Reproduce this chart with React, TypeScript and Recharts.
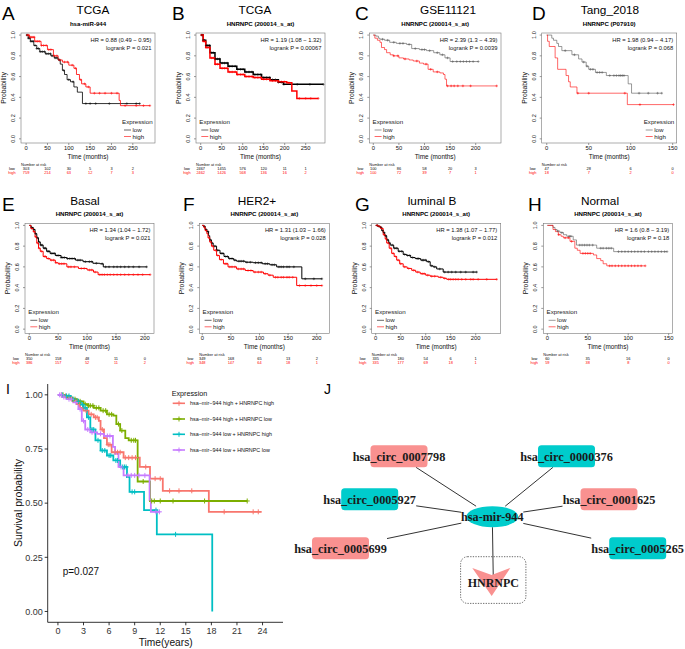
import { LineChart, Line, XAxis, YAxis, ScatterChart, Scatter } from "recharts";

const SANS = "'Liberation Sans', Arial, Helvetica, sans-serif";
const SERIF = "'Liberation Serif', 'Times New Roman', serif";

type Step = [number, number];

// ---- KM curves, months vs probability
const A_LOW: Step[] = [[0, 1], [5, 0.97], [10, 0.94], [18, 0.9], [25, 0.87], [32, 0.84], [45, 0.82], [58, 0.8], [66, 0.78], [75, 0.76], [80, 0.72], [85, 0.66], [90, 0.62], [96, 0.57], [104, 0.55], [112, 0.5], [120, 0.45], [132, 0.34], [266, 0.34]];
const A_LOW_CENS = [2, 5, 8, 11, 14, 17, 21, 25, 29, 33, 38, 43, 47, 52, 57, 61, 68, 72, 78, 88, 100, 110, 140, 150, 163, 195, 236, 258, 266];
const A_HIGH: Step[] = [[0, 1], [8, 0.98], [20, 0.94], [35, 0.9], [50, 0.86], [64, 0.8], [75, 0.76], [85, 0.74], [100, 0.71], [112, 0.68], [118, 0.62], [125, 0.57], [130, 0.53], [140, 0.5], [150, 0.44], [218, 0.37], [221, 0.32], [290, 0.32]];
const A_HIGH_CENS = [3, 6, 9, 12, 16, 19, 23, 27, 31, 36, 41, 47, 53, 58, 66, 72, 79, 90, 97, 108, 116, 128, 137, 146, 160, 172, 185, 200, 213, 232, 258, 275, 290];

const B_LOW: Step[] = [[0, 1], [6, 0.95], [12, 0.9], [22, 0.83], [34, 0.77], [46, 0.73], [65, 0.7], [86, 0.67], [105, 0.645], [125, 0.62], [145, 0.59], [165, 0.57], [185, 0.545], [197, 0.525], [292, 0.525]];
const B_LOW_CENS = [3, 6, 9, 13, 17, 21, 26, 30, 35, 40, 45, 51, 57, 63, 69, 75, 82, 88, 95, 101, 108, 115, 122, 129, 136, 143, 150, 157, 164, 171, 178, 185, 192, 198, 230, 260, 292];
const B_HIGH: Step[] = [[0, 1], [6, 0.94], [12, 0.88], [22, 0.78], [34, 0.72], [46, 0.68], [65, 0.645], [86, 0.62], [105, 0.6], [125, 0.59], [145, 0.575], [165, 0.56], [185, 0.55], [205, 0.54], [217, 0.46], [229, 0.39], [280, 0.39]];
const B_HIGH_CENS = [3, 6, 9, 13, 17, 21, 26, 30, 35, 40, 45, 51, 57, 63, 69, 75, 82, 88, 95, 101, 108, 115, 122, 129, 136, 143, 150, 157, 164, 171, 178, 185, 192, 199, 210, 235, 250, 262, 280];

const C_LOW: Step[] = [[0, 1], [5, 0.99], [10, 0.97], [13, 0.96], [22, 0.95], [32, 0.93], [45, 0.92], [65, 0.91], [75, 0.87], [90, 0.86], [104, 0.85], [118, 0.83], [130, 0.81], [140, 0.78], [150, 0.745], [205, 0.745]];
const C_LOW_CENS = [18, 28, 40, 52, 58, 70, 82, 95, 100, 110, 125, 135, 145, 155, 163, 170, 176, 182, 188, 195, 205];
const C_HIGH: Step[] = [[0, 1], [3, 0.97], [8, 0.95], [13, 0.93], [16, 0.88], [22, 0.86], [26, 0.83], [33, 0.81], [39, 0.8], [50, 0.78], [59, 0.77], [70, 0.76], [78, 0.75], [90, 0.73], [98, 0.72], [107, 0.67], [117, 0.645], [130, 0.635], [137, 0.62], [140, 0.575], [143, 0.51], [241, 0.51]];
const C_HIGH_CENS = [40, 48, 62, 85, 103, 112, 125, 145, 152, 158, 165, 175, 190, 241];

const D_LOW: Step[] = [[0, 1], [6, 0.97], [8, 0.95], [12, 0.92], [14, 0.89], [18, 0.85], [30, 0.81], [38, 0.77], [42, 0.74], [47, 0.7], [50, 0.67], [58, 0.64], [71, 0.61], [97, 0.53], [101, 0.44], [137, 0.44]];
const D_LOW_CENS = [22, 33, 44, 48, 52, 55, 60, 63, 66, 75, 80, 83, 86, 88, 90, 92, 110, 121, 132, 137];
const D_HIGH: Step[] = [[0, 1], [1, 0.94], [3, 0.89], [10, 0.78], [13, 0.67], [23, 0.61], [26, 0.55], [28, 0.5], [36, 0.44], [96, 0.33], [151, 0.33]];
const D_HIGH_CENS = [37, 50, 93, 111, 151];

const E_LOW: Step[] = [[0, 1], [3, 0.98], [7, 0.96], [10, 0.92], [13, 0.88], [16, 0.84], [19, 0.81], [24, 0.78], [30, 0.75], [36, 0.73], [45, 0.71], [55, 0.69], [65, 0.68], [80, 0.665], [93, 0.65], [110, 0.635], [122, 0.63], [128, 0.6], [203, 0.6]];
const E_LOW_CENS = [4, 8, 11, 14, 17, 20, 22, 26, 28, 32, 34, 38, 41, 44, 48, 51, 55, 58, 61, 66, 70, 74, 78, 84, 88, 97, 104, 108, 116, 126, 132, 138, 146, 152, 158, 165, 172, 180, 190, 203];
const E_HIGH: Step[] = [[0, 1], [3, 0.97], [7, 0.94], [10, 0.89], [13, 0.83], [16, 0.78], [19, 0.75], [24, 0.7], [30, 0.68], [36, 0.665], [45, 0.64], [50, 0.63], [65, 0.6], [85, 0.585], [100, 0.57], [111, 0.55], [119, 0.525], [209, 0.525]];
const E_HIGH_CENS = [4, 8, 11, 14, 17, 21, 26, 28, 33, 38, 42, 46, 52, 56, 60, 68, 72, 78, 90, 95, 104, 108, 114, 122, 126, 130, 135, 140, 146, 152, 158, 165, 172, 180, 188, 196, 209];

const F_LOW: Step[] = [[0, 1], [2, 0.99], [5, 0.96], [8, 0.94], [11, 0.9], [13, 0.86], [16, 0.83], [19, 0.8], [25, 0.76], [31, 0.73], [38, 0.7], [46, 0.68], [55, 0.665], [60, 0.655], [75, 0.645], [89, 0.64], [105, 0.63], [118, 0.62], [130, 0.6], [174, 0.485], [209, 0.485]];
const F_LOW_CENS = [4, 7, 10, 14, 17, 22, 27, 33, 36, 41, 44, 48, 52, 57, 64, 68, 72, 78, 84, 93, 98, 103, 110, 114, 122, 126, 134, 138, 142, 148, 152, 160, 180, 195, 209];
const F_HIGH: Step[] = [[0, 1], [3, 0.98], [5, 0.95], [8, 0.92], [10, 0.88], [13, 0.84], [16, 0.8], [20, 0.76], [25, 0.71], [30, 0.67], [37, 0.63], [45, 0.6], [60, 0.58], [75, 0.565], [89, 0.55], [107, 0.534], [115, 0.52], [124, 0.5], [165, 0.42], [209, 0.42]];
const F_HIGH_CENS = [4, 7, 12, 15, 18, 23, 27, 33, 40, 43, 48, 52, 57, 63, 68, 72, 80, 85, 92, 98, 103, 110, 118, 128, 132, 138, 142, 148, 152, 158, 170, 180, 190, 200, 209];

const G_LOW: Step[] = [[0, 1], [4, 0.99], [9, 0.98], [12, 0.95], [15, 0.93], [18, 0.9], [22, 0.86], [26, 0.83], [29, 0.81], [36, 0.78], [45, 0.75], [55, 0.72], [62, 0.71], [70, 0.69], [79, 0.68], [90, 0.665], [102, 0.65], [109, 0.61], [115, 0.6], [122, 0.58], [135, 0.55], [202, 0.55]];
const G_LOW_CENS = [3, 7, 11, 14, 17, 20, 24, 28, 33, 38, 42, 47, 52, 58, 64, 68, 74, 83, 86, 93, 96, 100, 106, 112, 118, 128, 138, 145, 152, 160, 170, 180, 195, 202];
const G_HIGH: Step[] = [[0, 1], [5, 0.99], [10, 0.97], [15, 0.91], [19, 0.87], [22, 0.83], [27, 0.78], [32, 0.73], [37, 0.7], [42, 0.665], [48, 0.63], [55, 0.6], [63, 0.585], [72, 0.567], [80, 0.55], [89, 0.534], [100, 0.52], [109, 0.51], [125, 0.5], [135, 0.49], [142, 0.48], [242, 0.48]];
const G_HIGH_CENS = [3, 7, 12, 17, 21, 25, 30, 35, 40, 45, 50, 58, 66, 76, 84, 93, 97, 104, 112, 118, 130, 138, 146, 150, 155, 160, 165, 172, 180, 190, 195, 205, 222, 242];

const H_LOW: Step[] = [[0, 1], [7, 0.98], [9.5, 0.96], [12, 0.945], [15.7, 0.93], [20, 0.91], [24, 0.895], [32, 0.86], [36, 0.81], [61, 0.78], [82, 0.747], [148, 0.747]];
const H_LOW_CENS = [13, 18, 27, 29, 40, 43, 46, 49, 52, 56, 66, 69, 73, 76, 79, 88, 92, 96, 100, 104, 108, 112, 116, 120, 125, 129, 133, 137, 141, 145, 148];
const H_HIGH: Step[] = [[0, 1], [7, 0.96], [10, 0.94], [13.6, 0.91], [17, 0.895], [19.8, 0.88], [28, 0.846], [34, 0.78], [37, 0.76], [40.5, 0.73], [57, 0.715], [61, 0.68], [66, 0.66], [69, 0.63], [73.5, 0.61], [121, 0.61]];
const H_HIGH_CENS = [14, 22, 26, 30, 44, 47, 50, 53, 77, 80, 84, 88, 92, 96, 100, 104, 108, 112, 116, 121];

const KM_TITLES = ["TCGA", "TCGA", "GSE11121", "Tang_2018", "Basal", "HER2+", "luminal B", "Normal"];
const KM_SUBTITLES = ["hsa-miR-944", "HNRNPC (200014_s_at)", "HNRNPC (200014_s_at)", "HNRNPC (P07910)", "HNRNPC (200014_s_at)", "HNRNPC (200014_s_at)", "HNRNPC (200014_s_at)", "HNRNPC (200014_s_at)"];
const KM_HR = ["HR = 0.88 (0.49 − 0.95)", "HR = 1.19 (1.08 − 1.32)", "HR = 2.39 (1.3 − 4.39)", "HR = 1.98 (0.94 − 4.17)", "HR = 1.34 (1.04 − 1.72)", "HR = 1.31 (1.03 − 1.66)", "HR = 1.38 (1.07 − 1.77)", "HR = 1.6 (0.8 − 3.19)"];
const KM_P = ["logrank P = 0.021", "logrank P = 0.00067", "logrank P = 0.0039", "logrank P = 0.068", "logrank P = 0.021", "logrank P = 0.028", "logrank P = 0.012", "logrank P = 0.18"];
const KM_TICKS = [
  [0, 50, 100, 150, 200, 250], [0, 50, 100, 150, 200, 250], [0, 50, 100, 150, 200], [0, 50, 100, 150],
  [0, 50, 100, 150, 200], [0, 50, 100, 150, 200], [0, 50, 100, 150, 200], [0, 50, 100, 150],
];
const RISK_LOW = [[303, 102, 30, 5, 3, 2], [2467, 1455, 576, 120, 11, 1], [100, 86, 58, 20, 3], [47, 28, 6, 0], [350, 158, 48, 11, 0], [349, 168, 65, 13, 2], [335, 180, 54, 6, 1], [60, 35, 16, 0]];
const RISK_HIGH = [[759, 214, 63, 12, 7, 3], [2462, 1426, 568, 136, 16, 2], [100, 72, 39, 7, 1], [18, 7, 2, 0], [386, 157, 52, 11, 2], [348, 147, 64, 18, 1], [335, 177, 69, 18, 1], [59, 38, 8, 0]];
const Y_TICKS = [0, 0.2, 0.4, 0.6, 0.8, 1];

// ---- I: combined KM, years
const I_HH: Step[] = [[0, 1], [0.5, 0.995], [1.06, 0.988], [1.6, 0.975], [2.23, 0.957], [2.6, 0.94], [3.0, 0.927], [3.6, 0.91], [4.2, 0.896], [4.8, 0.88], [5.0, 0.84], [5.4, 0.8], [5.75, 0.77], [6.3, 0.735], [7.7, 0.71], [9.6, 0.667], [10.8, 0.613], [12.3, 0.557], [17.7, 0.46], [23.9, 0.46]];
const I_HH_CENS = [0.4, 0.9, 1.3, 1.8, 2.1, 2.5, 2.9, 3.3, 3.9, 4.4, 4.6, 5.2, 5.9, 6.1, 6.7, 7.0, 7.3, 7.9, 8.3, 8.7, 9.1, 10.3, 11.4, 12.0, 13.1, 14.2, 15.7, 19.5, 22.9, 23.5];
const I_HL: Step[] = [[0, 1], [0.8, 0.99], [1.5, 0.98], [2.2, 0.97], [3.0, 0.957], [3.5, 0.95], [4.2, 0.94], [5.0, 0.927], [5.75, 0.91], [6.5, 0.904], [6.85, 0.865], [7.3, 0.835], [7.9, 0.8], [8.3, 0.79], [9.35, 0.6], [10.8, 0.51], [22.2, 0.51]];
const I_HL_CENS = [0.6, 1.2, 1.7, 2.0, 2.4, 2.6, 3.2, 3.6, 3.8, 4.1, 4.5, 4.8, 5.3, 5.6, 6.0, 6.3, 7.1, 7.5, 8.6, 8.9, 9.1, 10.0, 11.0, 11.3, 12.0, 13.5, 17.2, 22.2];
const I_LH: Step[] = [[0, 1], [0.8, 0.995], [1.5, 0.98], [2.2, 0.97], [2.7, 0.955], [3.0, 0.94], [3.4, 0.896], [3.8, 0.84], [4.4, 0.79], [5.0, 0.743], [5.75, 0.72], [6.5, 0.697], [7.3, 0.667], [8.1, 0.62], [8.4, 0.552], [10.1, 0.468], [11.6, 0.356], [18.1, 0]];
const I_LH_CENS = [0.5, 1.0, 1.3, 1.8, 2.4, 2.9, 3.2, 3.6, 4.0, 4.2, 4.7, 5.2, 5.5, 6.0, 6.2, 6.8, 7.0, 7.6, 7.8, 8.0, 8.7, 9.0, 11.5, 13.8];
const I_LL: Step[] = [[0, 1], [0.5, 0.99], [1.0, 0.98], [1.8, 0.965], [2.4, 0.934], [2.8, 0.88], [3.2, 0.84], [3.8, 0.827], [4.6, 0.82], [5.4, 0.81], [6.45, 0.76], [6.7, 0.728], [7.1, 0.667], [7.7, 0.628], [10.75, 0.514], [10.9, 0.46], [12.0, 0.46]];
const I_LL_CENS = [0.2, 0.4, 0.7, 1.3, 1.6, 2.1, 2.6, 3.0, 3.5, 4.0, 4.3, 5.0, 5.8, 6.1, 7.4, 8.2, 8.6, 9.0, 9.5, 10.2, 11.5, 11.9];
const I_LABELS = ["hsa−mir−944 high + HNRNPC high", "hsa−mir−944 high + HNRNPC low", "hsa−mir−944 low + HNRNPC high", "hsa−mir−944 low + HNRNPC low"];
const I_COLORS = ["#F8766D", "#7CAE00", "#00BFC4", "#C77CFF"];
const I_XTICKS = [0, 3, 6, 9, 12, 15, 18, 21, 24];
const I_YTICKS = [0, 0.25, 0.5, 0.75, 1];

// ---- J: network
const J_CIRC = ["hsa_circ_0007798", "hsa_circ_0000376", "hsa_circ_0005927", "hsa_circ_0001625", "hsa_circ_0005699", "hsa_circ_0005265"];
const J_CIRC_X = [399, 566.5, 369.7, 609, 340.5, 637.7];
const J_CIRC_Y = [456.3, 456.3, 499.2, 499.2, 548.2, 548.2];
const J_CIRC_UP = [true, false, false, true, true, false];
const J_HUB = { name: "hsa-mir-944", x: 492.3, y: 516.7 };
const J_TARGET = { name: "HNRNPC", x: 493.3, y: 580 };
const PINK = "#F99190";
const CYAN = "#00CCCC";

// layout of the eight small panels
const KM_LAYOUT = [
  { ox: 0, oy: 0, l: 21, r: 155, t: 33, b: 143, dom: [-12, 302], letterX: 2, titleX: 93, legend: "right", lw: 0.8 },
  { ox: 170, oy: 0, l: 196, r: 325, t: 33, b: 143, dom: [-11.2, 296], letterX: 172, titleX: 255, legend: "left", lw: 1.5 },
  { ox: 340, oy: 0, l: 369.3, r: 501, t: 33, b: 143, dom: [-7.8, 249.4], letterX: 355, titleX: 448, legend: "left", lw: 0.6 },
  { ox: 510, oy: 0, l: 541.7, r: 676.7, t: 33, b: 143, dom: [-6, 154.8], letterX: 532, titleX: 610, legend: "right", lw: 0.6 },
  { ox: 0, oy: 190, l: 25, r: 154, t: 223.3, b: 333.3, dom: [-7.4, 215.7], letterX: 2, titleX: 85, legend: "left", lw: 1 },
  { ox: 170, oy: 190, l: 199.3, r: 329.3, t: 223.3, b: 333.3, dom: [-5.2, 222], letterX: 183, titleX: 257, legend: "left", lw: 1 },
  { ox: 340, oy: 190, l: 371.7, r: 500.7, t: 223.3, b: 333.3, dom: [-8, 250], letterX: 355, titleX: 432, legend: "left", lw: 1 },
  { ox: 510, oy: 190, l: 543.3, r: 672.7, t: 223.3, b: 333.3, dom: [-5, 155], letterX: 528, titleX: 600, legend: "left", lw: 0.6 },
];
const KM_LETTERS = ["A", "B", "C", "D", "E", "F", "G", "H"];

function kmPoints(steps: Step[], cens: number[]) {
  const pts = steps.map(([t, s]) => ({ t, s, c: false }));
  cens.forEach((ct) => {
    let s = steps[0][1];
    steps.forEach(([t, v]) => {
      if (t <= ct) s = v;
    });
    pts.push({ t: ct, s, c: true });
  });
  return pts.sort((a, b) => a.t - b.t);
}

const KM_DATA = [
  [A_LOW, A_LOW_CENS, A_HIGH, A_HIGH_CENS],
  [B_LOW, B_LOW_CENS, B_HIGH, B_HIGH_CENS],
  [C_LOW, C_LOW_CENS, C_HIGH, C_HIGH_CENS],
  [D_LOW, D_LOW_CENS, D_HIGH, D_HIGH_CENS],
  [E_LOW, E_LOW_CENS, E_HIGH, E_HIGH_CENS],
  [F_LOW, F_LOW_CENS, F_HIGH, F_HIGH_CENS],
  [G_LOW, G_LOW_CENS, G_HIGH, G_HIGH_CENS],
  [H_LOW, H_LOW_CENS, H_HIGH, H_HIGH_CENS],
].map(([lo, loc, hi, hic]) => ({
  low: kmPoints(lo as Step[], loc as number[]),
  high: kmPoints(hi as Step[], hic as number[]),
}));

const censorDot = (color: string, size: number, sw: number) => (props: any) => {
  const { cx, cy, payload, index } = props;
  if (!payload || !payload.c || cx == null) return <g key={`n${index}`} />;
  return (
    <path
      key={`c${index}`}
      d={`M${cx - size},${cy}H${cx + size}M${cx},${cy - size}V${cy + size}`}
      stroke={color}
      strokeWidth={sw}
      fill="none"
    />
  );
};

function KMPanel({ i }: { i: number }) {
  const p = KM_LAYOUT[i];
  const W = 172;
  const H = 185;
  const data = KM_DATA[i];
  const low = RISK_LOW[i];
  const high = RISK_HIGH[i];
  const ticks = KM_TICKS[i];
  const lowColor = p.lw < 0.7 ? "#555" : "#000";

  const xTick = (props: any) => {
    const { x, y, payload } = props;
    const k = ticks.indexOf(payload.value);
    return (
      <g key={`t${payload.value}`} fontFamily={SANS}>
        <text x={x} y={y + 3} textAnchor="middle" fontSize={5.8} fill="#111">{payload.value}</text>
        <text x={x} y={y + 22.5} textAnchor="middle" fontSize={3.9} fill="#000">{low[k]}</text>
        <text x={x} y={y + 27} textAnchor="middle" fontSize={3.9} fill="#f00">{high[k]}</text>
      </g>
    );
  };
  const yTick = (props: any) => {
    const { x, y, payload } = props;
    const bx = x - 1.8;
    return (
      <text key={`y${payload.value}`} x={bx} y={y} transform={`rotate(-90 ${bx} ${y})`} textAnchor="middle" fontSize={5.5} fontFamily={SANS} fill="#111">
        {payload.value.toFixed(1)}
      </text>
    );
  };

  return (
    <div style={{ position: "absolute", left: p.ox, top: p.oy, width: W, height: H }}>
      <LineChart width={W} height={H} margin={{ top: p.t - p.oy, right: p.ox + W - p.r, bottom: 0, left: 0 }}>
        <XAxis
          type="number"
          dataKey="t"
          domain={p.dom}
          ticks={ticks}
          interval={0}
          allowDataOverflow
          height={p.oy + H - p.b}
          axisLine={false}
          tickSize={2}
          tickMargin={2}
          tickLine={{ stroke: "#333", strokeWidth: 0.5 }}
          tick={xTick}
        />
        <YAxis
          type="number"
          domain={[-0.04, 1.02]}
          ticks={Y_TICKS}
          interval={0}
          allowDataOverflow
          width={p.l - p.ox}
          axisLine={false}
          tickSize={2}
          tickMargin={2}
          tickLine={{ stroke: "#333", strokeWidth: 0.5 }}
          tick={yTick}
        />
        <Line data={data.low} dataKey="s" type="stepAfter" stroke={lowColor} strokeWidth={p.lw} dot={censorDot(lowColor, 1.3, 0.5)} activeDot={false} isAnimationActive={false} />
        <Line data={data.high} dataKey="s" type="stepAfter" stroke="#ff0000" strokeWidth={p.lw} dot={censorDot("#ff0000", 1.3, 0.5)} activeDot={false} isAnimationActive={false} />
      </LineChart>
    </div>
  );
}

function KMOverlay({ i }: { i: number }) {
  const p = KM_LAYOUT[i];
  const row2 = p.oy > 0;
  const letterY = row2 ? 211 : 19.5;
  const titleY = row2 ? 205 : 14;
  const subY = row2 ? 216 : 25.5;
  const mid = (p.l + p.r) / 2;
  const midY = (p.t + p.b) / 2;
  const lowColor = p.lw < 0.7 ? "#555" : "#000";
  const legX = p.legend === "right" ? p.r - 33 : p.l + 3.3;
  return (
    <g fontFamily={SANS}>
      <text x={p.letterX} y={letterY} fontSize={19} fill="#000">{KM_LETTERS[i]}</text>
      <text x={p.titleX} y={titleY} fontSize={11.8} textAnchor="middle" fill="#000">{KM_TITLES[i]}</text>
      <text x={mid} y={subY} fontSize={6.1} fontWeight="bold" textAnchor="middle" fill="#000">{KM_SUBTITLES[i]}</text>
      <rect x={p.l} y={p.t} width={p.r - p.l} height={p.b - p.t} fill="none" stroke="#777" strokeWidth={0.6} />
      <text x={p.r - 3.5} y={p.t + 9} fontSize={5.8} textAnchor="end" fill="#111">{KM_HR[i]}</text>
      <text x={p.r - 3.5} y={p.t + 16.5} fontSize={5.8} textAnchor="end" fill="#111">{KM_P[i]}</text>
      <text x={legX} y={p.t + 91} fontSize={6.2} fill="#222">Expression</text>
      <line x1={legX + 2} x2={legX + 9} y1={p.t + 97} y2={p.t + 97} stroke={lowColor} strokeWidth={0.6} />
      <line x1={legX + 2} x2={legX + 9} y1={p.t + 103.5} y2={p.t + 103.5} stroke="#f00" strokeWidth={0.6} />
      <text x={legX + 10.5} y={p.t + 99} fontSize={6.2} fill="#222">low</text>
      <text x={legX + 10.5} y={p.t + 105.5} fontSize={6.2} fill="#222">high</text>
      <text x={p.l - 15} y={midY} transform={`rotate(-90 ${p.l - 15} ${midY})`} fontSize={6.8} textAnchor="middle" fill="#111">Probability</text>
      <text x={mid} y={p.b + 15.5} fontSize={6.4} textAnchor="middle" fill="#111">Time (months)</text>
      <text x={p.l} y={p.b + 22.5} fontSize={3.9} fill="#111">Number at risk</text>
      <text x={p.l - 9} y={p.b + 26.5} fontSize={3.9} textAnchor="middle" fill="#000">low</text>
      <text x={p.l - 9} y={p.b + 31} fontSize={3.9} textAnchor="middle" fill="#f00">high</text>
    </g>
  );
}

const I_SERIES = [
  { pts: kmPoints(I_HH, I_HH_CENS) },
  { pts: kmPoints(I_HL, I_HL_CENS) },
  { pts: kmPoints(I_LH, I_LH_CENS) },
  { pts: kmPoints(I_LL, I_LL_CENS) },
];

function PanelI() {
  return (
    <div style={{ position: "absolute", left: 0, top: 370, width: 340, height: 279 }}>
      <LineChart width={340} height={279} margin={{ top: 14, right: 57, bottom: 0, left: 7.7 }}>
        <XAxis
          type="number"
          dataKey="t"
          domain={[-1.2, 26.4]}
          ticks={I_XTICKS}
          interval={0}
          allowDataOverflow
          height={26.7}
          tickSize={3}
          axisLine={{ stroke: "#000", strokeWidth: 0.8 }}
          tickLine={{ stroke: "#000", strokeWidth: 0.8 }}
          tick={{ fontSize: 9, fill: "#333", fontFamily: SANS }}
        />
        <YAxis
          type="number"
          domain={[-0.05, 1.05]}
          ticks={I_YTICKS}
          interval={0}
          allowDataOverflow
          width={40}
          tickSize={3}
          tickFormatter={(v: number) => v.toFixed(2)}
          axisLine={{ stroke: "#000", strokeWidth: 0.8 }}
          tickLine={{ stroke: "#000", strokeWidth: 0.8 }}
          tick={{ fontSize: 9, fill: "#333", fontFamily: SANS }}
        />
        {I_SERIES.map((s, k) => (
          <Line
            key={k}
            data={s.pts}
            dataKey="s"
            type="stepAfter"
            stroke={I_COLORS[k]}
            strokeWidth={1.8}
            dot={censorDot(I_COLORS[k], 2.5, 1)}
            activeDot={false}
            isAnimationActive={false}
          />
        ))}
      </LineChart>
    </div>
  );
}

function clipEnd(from: { x: number; y: number }, to: { x: number; y: number }, hw: number, hh: number) {
  const dx = to.x - from.x;
  const dy = to.y - from.y;
  const k = Math.min(hw / Math.max(Math.abs(dx), 1e-6), hh / Math.max(Math.abs(dy), 1e-6));
  return { x: from.x + dx * k, y: from.y + dy * k };
}

const J_NODES = J_CIRC.map((name, k) => ({ name, x: J_CIRC_X[k], y: J_CIRC_Y[k], up: J_CIRC_UP[k] }));
const J_EDGES = [
  ...J_NODES.map((n) => [clipEnd(n, J_HUB, 46.5, 11), clipEnd(J_HUB, n, 31, 10.5)]),
  [clipEnd(J_HUB, J_TARGET, 31, 10.5), clipEnd(J_TARGET, J_HUB, 30, 5)],
];

function CircNode(props: any) {
  const { cx, cy, payload } = props;
  return (
    <g>
      <rect x={cx - 28.5} y={cy - 11} width={57} height={22} rx={3.5} fill={payload.up ? PINK : CYAN} />
      <text x={cx} y={cy + 4.8} textAnchor="middle" fontFamily={SERIF} fontWeight="bold" fontSize={12.3} fill="#1a1a1a">
        {payload.name}
      </text>
    </g>
  );
}

function HubNode(props: any) {
  const { cx, cy, payload } = props;
  return (
    <g>
      <ellipse cx={cx} cy={cy} rx={26} ry={10.5} fill={CYAN} />
      <text x={cx} y={cy + 4} textAnchor="middle" fontFamily={SERIF} fontWeight="bold" fontSize={12.2} fill="#1a1a1a">
        {payload.name}
      </text>
    </g>
  );
}

function TargetNode(props: any) {
  const { cx, cy, payload } = props;
  return (
    <g>
      <rect x={cx - 32.7} y={cy - 23.3} width={65.3} height={46.7} rx={7} fill="none" stroke="#444" strokeWidth={0.8} strokeDasharray="1.3 1.3" />
      <polygon points={`${cx - 21},${cy - 12} ${cx - 1.6},${cy - 5} ${cx + 17},${cy - 12} ${cx - 1.6},${cy + 16}`} fill={PINK} />
      <text x={cx} y={cy + 7.3} textAnchor="middle" fontFamily={SERIF} fontWeight="bold" fontSize={12} fill="#1a1a1a">
        {payload.name}
      </text>
    </g>
  );
}

function PanelJ() {
  return (
    <div style={{ position: "absolute", left: 285, top: 370, width: 400, height: 279 }}>
      <ScatterChart width={400} height={279} margin={{ top: 0, right: 0, bottom: 0, left: 0 }}>
        <XAxis type="number" dataKey="x" domain={[285, 685]} hide allowDataOverflow />
        <YAxis type="number" dataKey="y" domain={[370, 649]} reversed hide allowDataOverflow />
        {J_EDGES.map((e, k) => (
          <Scatter key={`e${k}`} data={e} line={{ stroke: "#333", strokeWidth: 1 }} shape={() => <g />} isAnimationActive={false} />
        ))}
        <Scatter data={[J_TARGET]} shape={TargetNode} isAnimationActive={false} />
        <Scatter data={J_NODES} shape={CircNode} isAnimationActive={false} />
        <Scatter data={[J_HUB]} shape={HubNode} isAnimationActive={false} />
      </ScatterChart>
    </div>
  );
}

export default function App() {
  const legY = [403.3, 419, 434.3, 450];
  return (
    <div style={{ position: "absolute", left: 0, top: 0, width: 685, height: 649, background: "#fff", fontFamily: SANS, overflow: "hidden" }}>
      {KM_LAYOUT.map((_, i) => (
        <KMPanel key={i} i={i} />
      ))}
      <PanelI />
      <PanelJ />
      <svg width={685} height={649} style={{ position: "absolute", left: 0, top: 0, pointerEvents: "none" }}>
        {KM_LAYOUT.map((_, i) => (
          <KMOverlay key={i} i={i} />
        ))}
        <g fontFamily={SANS}>
          <text x={6} y={394} fontSize={14} fill="#000">I</text>
          <text x={324} y={394} fontSize={14} fill="#000">J</text>
          <text x={22} y={503} transform="rotate(-90 22 503)" fontSize={10.5} textAnchor="middle" fill="#111">Survival probability</text>
          <text x={165.7} y={645.5} fontSize={10.2} textAnchor="middle" fill="#111">Time(years)</text>
          <text x={62.7} y={575} fontSize={10} fill="#111">p=0.027</text>
          <text x={171.7} y={396} fontSize={7.2} fill="#111">Expression</text>
          {I_LABELS.map((lab, k) => (
            <g key={k}>
              <line x1={172.7} x2={185} y1={legY[k]} y2={legY[k]} stroke={I_COLORS[k]} strokeWidth={1.6} />
              <path d={`M${176.5},${legY[k]}H${181.5}M${179},${legY[k] - 2.5}V${legY[k] + 2.5}`} stroke={I_COLORS[k]} strokeWidth={1} />
              <text x={190} y={legY[k] + 2} fontSize={5.4} fill="#111">{lab}</text>
            </g>
          ))}
        </g>
      </svg>
    </div>
  );
}
